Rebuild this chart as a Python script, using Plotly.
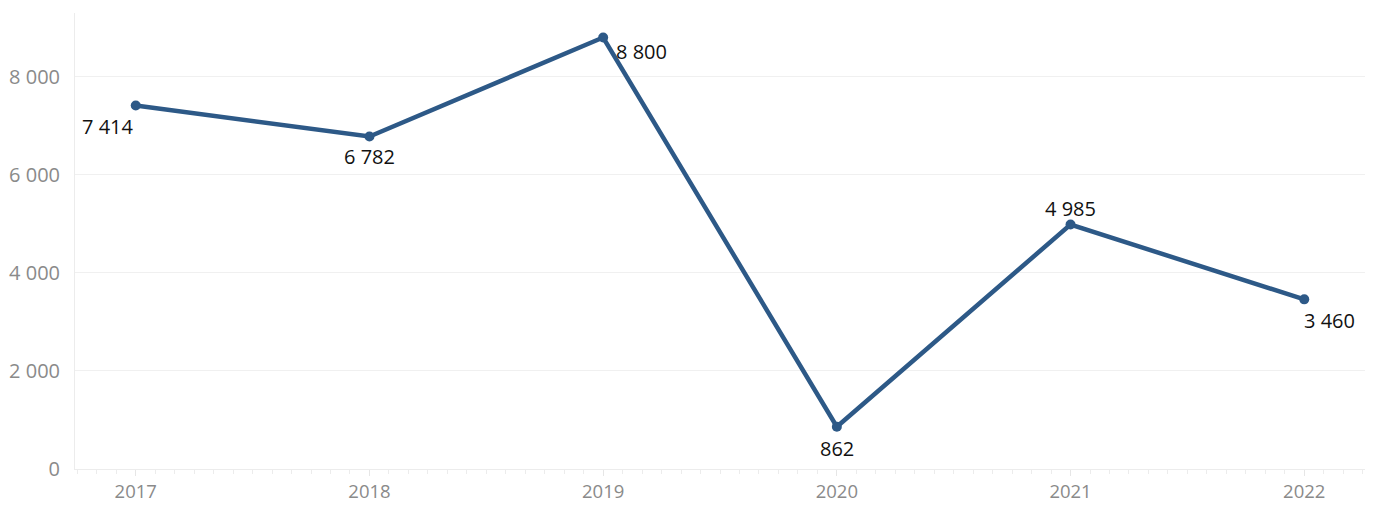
import plotly.graph_objects as go

years = [2017, 2018, 2019, 2020, 2021, 2022]
values = [7414, 6782, 8800, 862, 4985, 3460]
label_dx = [-28, 0, 38, 0, 0, 25]
label_dy = [-21, -20, -14, -22, 16, -21]
y_ticks = [0, 2000, 4000, 6000, 8000]

fig = go.Figure()
fig.add_trace(go.Scatter(
    x=years, y=values,
    mode="lines+markers",
    line=dict(color="#2d5987", width=4.5),
    marker=dict(color="#2d5987", size=10),
    cliponaxis=False,
    hoverinfo="skip",
))

for x, y, dx, dy in zip(years, values, label_dx, label_dy):
    fig.add_annotation(
        x=x, y=y, text=f"{y:,}".replace(",", " "),
        showarrow=False, xanchor="center", yanchor="middle",
        xshift=dx, yshift=dy,
        font=dict(family="Open Sans", size=20, color="#111111"),
    )

fig.update_layout(
    width=1365, height=501,
    margin=dict(l=67, r=8, t=5, b=40),
    paper_bgcolor="white", plot_bgcolor="white",
    showlegend=False,
    font=dict(family="Open Sans", color="#8a8a8a", size=15),
)
fig.update_xaxes(
    range=[2016.74, 2022.26],
    tickvals=years, ticktext=[str(y) for y in years],
    showgrid=False, zeroline=False, automargin=False,
    showline=True, linecolor="#ececec", linewidth=1,
    ticks="outside", ticklen=6, tickcolor="#e6e6e6",
    minor=dict(dtick=1/12, tick0=2017, ticks="outside", ticklen=4, tickcolor="#ececec", showgrid=False),
    tickfont=dict(size=18.5, color="#8a8a8a"),
)
fig.update_yaxes(
    range=[0, 9300],
    tickvals=y_ticks, ticktext=[f"{v:,}".replace(",", " ") for v in y_ticks],
    showgrid=True, gridcolor="#f0f0f0", gridwidth=1,
    zeroline=False, automargin=False,
    showline=True, linecolor="#ececec", linewidth=1,
    ticks="", ticklabelstandoff=10,
    tickfont=dict(size=20, color="#8a8a8a"),
)

fig.write_html("out.html")
